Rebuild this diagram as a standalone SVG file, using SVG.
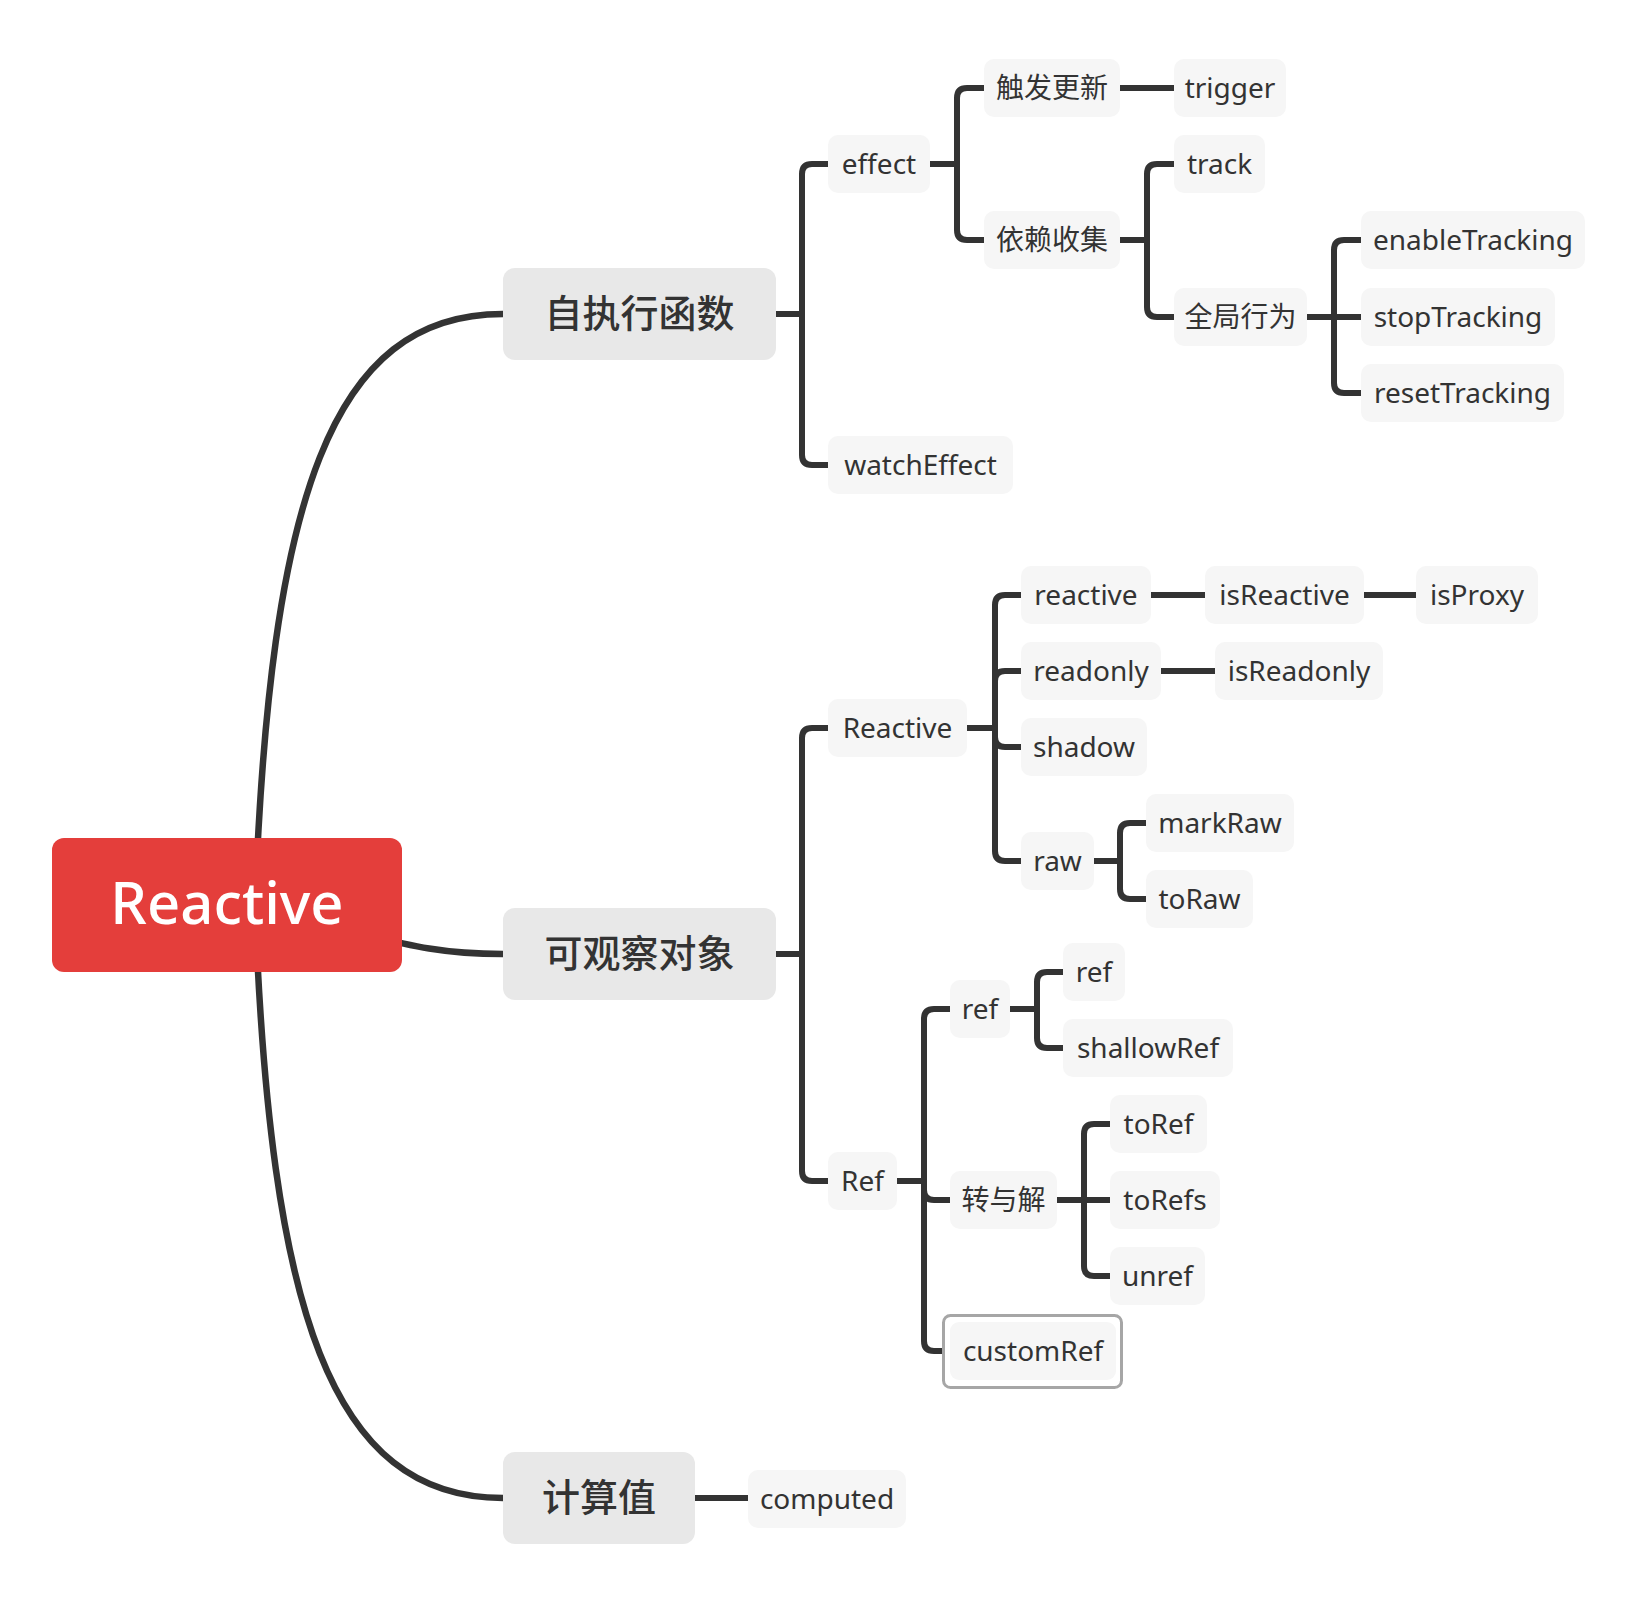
<svg xmlns="http://www.w3.org/2000/svg" width="1630" height="1600" viewBox="0 0 1630 1600">
<style>
text{font-family:"Noto Sans","Noto Sans CJK SC",sans-serif;fill:#333;text-anchor:middle}
.s rect{fill:#f6f6f6}
.s text{font-size:28px}
.m rect{fill:#e8e8e8}
.m text{font-size:38px;font-weight:500}
.c path{fill:none;stroke:#333;stroke-width:6;stroke-linecap:butt}
.c .big{stroke-width:6.5}
</style>
<rect x="0" y="0" width="1630" height="1600" fill="#fff"/>
<g class="c" id="connectors">
<path class="big" d="M255 905 C270 500 330 314 503 314"/>
<path class="big" d="M255 905 C270 1310 330 1498 503 1498"/>
<path class="big" d="M227 905 C380 930 400 954 503 954"/>
<path d="M776 314 H802 M802 314 V174 Q802 164 812 164 H828 M802 314 V455 Q802 465 812 465 H828"/>
<path d="M930 164 H957 M957 164 V98 Q957 88 967 88 H984 M957 164 V230 Q957 240 967 240 H984"/>
<path d="M1120 88 H1174"/>
<path d="M1120 240 H1147 M1147 240 V174 Q1147 164 1157 164 H1174 M1147 240 V307 Q1147 317 1157 317 H1174"/>
<path d="M1307 317 H1361 M1334 317 V250 Q1334 240 1344 240 H1361 M1334 317 V383 Q1334 393 1344 393 H1361"/>
<path d="M776 954 H802 M802 954 V738 Q802 728 812 728 H828 M802 954 V1171 Q802 1181 812 1181 H828"/>
<path d="M967 728 H995 M995 728 V605 Q995 595 1005 595 H1021 M995 728 V681 Q995 671 1005 671 H1021 M995 728 V737 Q995 747 1005 747 H1021 M995 728 V851 Q995 861 1005 861 H1021"/>
<path d="M1151 595 H1205 M1364 595 H1416 M1161 671 H1215"/>
<path d="M1094 861 H1120 M1120 861 V833 Q1120 823 1130 823 H1146 M1120 861 V889 Q1120 899 1130 899 H1146"/>
<path d="M897 1181 H924 M924 1181 V1019 Q924 1009 934 1009 H950 M924 1181 V1190 Q924 1200 934 1200 H950 M924 1181 V1341 Q924 1351 934 1351 H944"/>
<path d="M1010 1009 H1037 M1037 1009 V982 Q1037 972 1047 972 H1063 M1037 1009 V1038 Q1037 1048 1047 1048 H1063"/>
<path d="M1057 1200 H1110 M1084 1200 V1134 Q1084 1124 1094 1124 H1110 M1084 1200 V1266 Q1084 1276 1094 1276 H1110"/>
<path d="M695 1498 H748"/>
</g>
<g id="root">
<rect x="52" y="838" width="350" height="134" rx="12" fill="#e43e3b"/>
<text x="227" y="924" style="font-size:58px;font-weight:500;fill:#fff">Reactive</text>
</g>
<g id="n-zizhixing" class="m"><rect x="503" y="268" width="273" height="92" rx="12"/><text x="639.5" y="327">自执行函数</text></g>
<g id="n-keguancha" class="m"><rect x="503" y="908" width="273" height="92" rx="12"/><text x="639.5" y="967">可观察对象</text></g>
<g id="n-jisuanzhi" class="m"><rect x="503" y="1452" width="192" height="92" rx="12"/><text x="599" y="1511">计算值</text></g>
<g id="n-effect" class="s"><rect x="828" y="135" width="102" height="58" rx="10"/><text x="879" y="174">effect</text></g>
<g id="n-watchEffect" class="s"><rect x="828" y="436" width="185" height="58" rx="10"/><text x="920.5" y="475">watchEffect</text></g>
<g id="n-chufa" class="s"><rect x="984" y="59" width="136" height="58" rx="10"/><text x="1052" y="98">触发更新</text></g>
<g id="n-yilai" class="s"><rect x="984" y="211" width="136" height="58" rx="10"/><text x="1052" y="250">依赖收集</text></g>
<g id="n-trigger" class="s"><rect x="1174" y="59" width="112" height="58" rx="10"/><text x="1230" y="98">trigger</text></g>
<g id="n-track" class="s"><rect x="1174" y="135" width="91" height="58" rx="10"/><text x="1219.5" y="174">track</text></g>
<g id="n-quanju" class="s"><rect x="1174" y="288" width="133" height="58" rx="10"/><text x="1240.5" y="327">全局行为</text></g>
<g id="n-enableTracking" class="s"><rect x="1361" y="211" width="224" height="58" rx="10"/><text x="1473" y="250">enableTracking</text></g>
<g id="n-stopTracking" class="s"><rect x="1361" y="288" width="194" height="58" rx="10"/><text x="1458" y="327">stopTracking</text></g>
<g id="n-resetTracking" class="s"><rect x="1361" y="364" width="203" height="58" rx="10"/><text x="1462.5" y="403">resetTracking</text></g>
<g id="n-Reactive" class="s"><rect x="828" y="699" width="139" height="58" rx="10"/><text x="897.5" y="738">Reactive</text></g>
<g id="n-reactive" class="s"><rect x="1021" y="566" width="130" height="58" rx="10"/><text x="1086" y="605">reactive</text></g>
<g id="n-isReactive" class="s"><rect x="1205" y="566" width="159" height="58" rx="10"/><text x="1284.5" y="605">isReactive</text></g>
<g id="n-isProxy" class="s"><rect x="1416" y="566" width="122" height="58" rx="10"/><text x="1477" y="605">isProxy</text></g>
<g id="n-readonly" class="s"><rect x="1021" y="642" width="140" height="58" rx="10"/><text x="1091" y="681">readonly</text></g>
<g id="n-isReadonly" class="s"><rect x="1215" y="642" width="168" height="58" rx="10"/><text x="1299" y="681">isReadonly</text></g>
<g id="n-shadow" class="s"><rect x="1021" y="718" width="126" height="58" rx="10"/><text x="1084" y="757">shadow</text></g>
<g id="n-raw" class="s"><rect x="1021" y="832" width="73" height="58" rx="10"/><text x="1057.5" y="871">raw</text></g>
<g id="n-markRaw" class="s"><rect x="1146" y="794" width="148" height="58" rx="10"/><text x="1220" y="833">markRaw</text></g>
<g id="n-toRaw" class="s"><rect x="1146" y="870" width="107" height="58" rx="10"/><text x="1199.5" y="909">toRaw</text></g>
<g id="n-Ref" class="s"><rect x="828" y="1152" width="69" height="58" rx="10"/><text x="862.5" y="1191">Ref</text></g>
<g id="n-ref" class="s"><rect x="950" y="980" width="60" height="58" rx="10"/><text x="980" y="1019">ref</text></g>
<g id="n-ref-leaf" class="s"><rect x="1063" y="943" width="62" height="58" rx="10"/><text x="1094" y="982">ref</text></g>
<g id="n-shallowRef" class="s"><rect x="1063" y="1019" width="170" height="58" rx="10"/><text x="1148" y="1058">shallowRef</text></g>
<g id="n-zhuanyujie" class="s"><rect x="950" y="1171" width="107" height="58" rx="10"/><text x="1003.5" y="1210">转与解</text></g>
<g id="n-toRef" class="s"><rect x="1110" y="1095" width="97" height="58" rx="10"/><text x="1158.5" y="1134">toRef</text></g>
<g id="n-toRefs" class="s"><rect x="1110" y="1171" width="110" height="58" rx="10"/><text x="1165" y="1210">toRefs</text></g>
<g id="n-unref" class="s"><rect x="1110" y="1247" width="95" height="58" rx="10"/><text x="1157.5" y="1286">unref</text></g>
<g id="n-customRef" class="s"><rect x="943.5" y="1315.5" width="178" height="72" rx="7" style="fill:#fff;stroke:#a6a6a6;stroke-width:3"/><rect x="950" y="1322" width="166" height="58" rx="9"/><text x="1033" y="1361">customRef</text></g>
<g id="n-computed" class="s"><rect x="748" y="1470" width="158" height="58" rx="10"/><text x="827" y="1509">computed</text></g>
</svg>
